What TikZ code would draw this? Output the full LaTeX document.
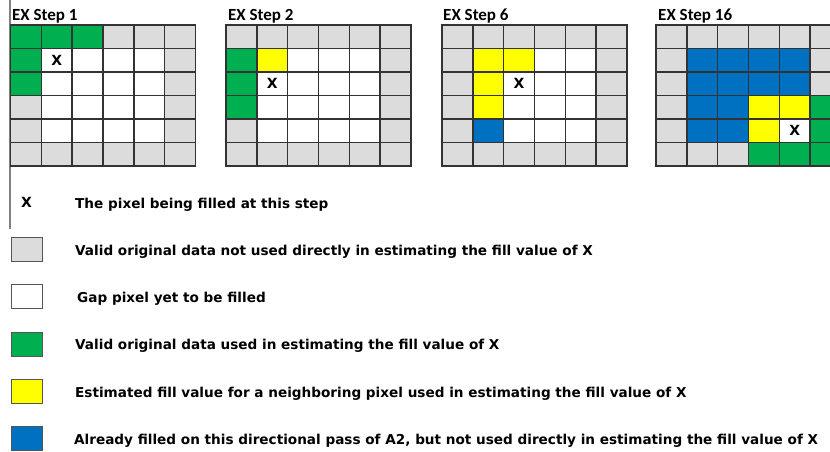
\documentclass[tikz,border=0pt]{standalone}
\usepackage{fontspec}
\newfontfamily\titlefont{Carlito}
\newfontfamily\legendfont{DejaVu Sans}
\definecolor{validgray}{HTML}{DCDCDC}
\definecolor{usedgreen}{HTML}{00B050}
\definecolor{estyellow}{HTML}{FFFF00}
\definecolor{passblue}{HTML}{0070C0}
\definecolor{gridgray}{HTML}{333333}
\definecolor{swatchedge}{HTML}{555555}
\definecolor{rulegray}{HTML}{808080}

\newcommand{\cw}{30.83}
\newcommand{\ch}{23.5}
\newcommand{\gtop}{25}
% gray border ring, white gap pixels inside
\newcommand{\gridbase}[1]{%
  \fill[validgray] (#1,\gtop) rectangle ++({6*\cw},{6*\ch});
  \fill[white] ({#1+\cw},{\gtop+\ch}) rectangle ++({4*\cw},{4*\ch});}
\newcommand{\pix}[4]{% colour, grid left, column, row
  \fill[#1] ({#2+#3*\cw},{\gtop+#4*\ch}) rectangle ++(\cw,\ch);}
\newcommand{\gridlines}[1]{%
  \foreach \k in {0,...,6} {
    \draw[gridline] ({#1+\k*\cw},\gtop) -- ++(0,{6*\ch});
    \draw[gridline] (#1,{\gtop+\k*\ch}) -- ++({6*\cw},0);}}

\begin{document}
\begin{tikzpicture}[x=1pt,y=-1pt,
    gridline/.style={draw=gridgray,line width=1.5pt,line cap=rect},
    swatch/.style={draw=swatchedge,line width=1pt,minimum width=31pt,minimum height=24pt,inner sep=0pt},
    keytext/.style={anchor=base west,inner sep=0pt,font=\legendfont\bfseries\fontsize{13.6}{16}\selectfont},
    steptitle/.style={anchor=base west,inner sep=0pt,font=\titlefont\bfseries\fontsize{17}{20}\selectfont},
    pixmark/.style={inner sep=0pt,font=\legendfont\bfseries\fontsize{14}{16}\selectfont}]
  \useasboundingbox (0,0) rectangle (830,451);
  \clip (0,0) rectangle (830,451);
  \draw[rulegray,line width=1.5pt] (10,0) -- (10,229);

  % step 1
  \node[steptitle] (title1) at (12,20.5) {EX Step 1};
  \gridbase{10.5}
  \foreach \c/\r in {0/0,1/0,2/0,0/1,0/2} {\pix{usedgreen}{10.5}{\c}{\r}}
  \gridlines{10.5}
  \node[pixmark] (fill1) at ({10.5+1.5*\cw},{\gtop+1.5*\ch}) {X};

  % step 2
  \node[steptitle] (title2) at (228,20.5) {EX Step 2};
  \gridbase{226}
  \foreach \r in {1,2,3} {\pix{usedgreen}{226}{0}{\r}}
  \pix{estyellow}{226}{1}{1}
  \gridlines{226}
  \node[pixmark] (fill2) at ({226+1.5*\cw},{\gtop+2.5*\ch}) {X};

  % step 6
  \node[steptitle] (title6) at (443,20.5) {EX Step 6};
  \gridbase{442}
  \foreach \c/\r in {1/1,2/1,1/2,1/3} {\pix{estyellow}{442}{\c}{\r}}
  \pix{passblue}{442}{1}{4}
  \gridlines{442}
  \node[pixmark] (fill6) at ({442+2.5*\cw},{\gtop+2.5*\ch}) {X};

  % step 16
  \node[steptitle] (title16) at (658,20.5) {EX Step 16};
  \gridbase{656}
  \foreach \c/\r in {1/1,2/1,3/1,4/1,1/2,2/2,3/2,4/2,1/3,2/3,1/4,2/4} {\pix{passblue}{656}{\c}{\r}}
  \foreach \c/\r in {3/3,4/3,3/4} {\pix{estyellow}{656}{\c}{\r}}
  \foreach \c/\r in {5/3,5/4,3/5,4/5,5/5} {\pix{usedgreen}{656}{\c}{\r}}
  \gridlines{656}
  \node[pixmark] (fill16) at ({656+4.5*\cw},{\gtop+4.5*\ch}) {X};

  % legend
  \node[pixmark] (keyx) at (26.5,202) {X};
  \node[keytext] (keyxtext) at (75,208) {The pixel being filled at this step};
  \node[swatch,fill=validgray] (keygray) at (26.5,249) {};
  \node[keytext] (keygraytext) at (75,255) {Valid original data not used directly in estimating the fill value of X};
  \node[swatch,fill=white] (keywhite) at (26.5,296) {};
  \node[keytext] (keywhitetext) at (77,302) {Gap pixel yet to be filled};
  \node[swatch,fill=usedgreen] (keygreen) at (26.5,344) {};
  \node[keytext] (keygreentext) at (75,349) {Valid original data used in estimating the fill value of X};
  \node[swatch,fill=estyellow] (keyyellow) at (26.5,391) {};
  \node[keytext] (keyyellowtext) at (75,397) {Estimated fill value for a neighboring pixel used in estimating the fill value of X};
  \node[swatch,fill=passblue] (keyblue) at (26.5,438) {};
  \node[keytext] (keybluetext) at (74,444) {Already filled on this directional pass of A2, but not used directly in estimating the fill value of X};
\end{tikzpicture}
\end{document}
